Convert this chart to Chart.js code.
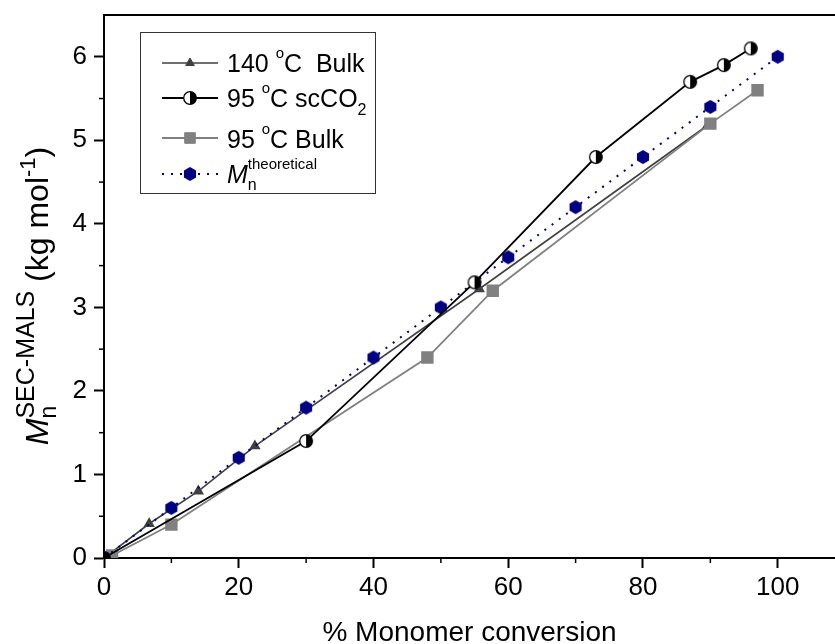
<!DOCTYPE html>
<html>
<head>
<meta charset="utf-8">
<script src="https://cdn.jsdelivr.net/npm/chart.js@4.4.0/dist/chart.umd.min.js"></script>
<style>
html, body { margin: 0; padding: 0; background: #fff; }
</style>
</head>
<body>
<canvas id="myChart" width="835" height="644"></canvas>
<script>
// 데이터
var bulk140X = [0, 6.7, 14, 22.4, 55.7, 89.6];
var bulk140Y = [0, 0.41, 0.8, 1.34, 3.22, 5.18];
var scco2X = [0, 30, 55, 73, 87, 92, 96];
var scco2Y = [0, 1.4, 3.3, 4.8, 5.7, 5.9, 6.1];
var bulk95X = [1.2, 10, 48, 57.7, 90, 97];
var bulk95Y = [0.03, 0.4, 2.4, 3.2, 5.2, 5.6];
var theoX = [0, 10, 20, 30, 40, 50, 60, 70, 80, 90, 100];
var theoY = [0, 0.6, 1.2, 1.8, 2.4, 3.0, 3.6, 4.2, 4.8, 5.4, 6.0];
var xTicks = [0, 20, 40, 60, 80, 100];
var xMinor = [10, 30, 50, 70, 90];
var yTicks = [0, 1, 2, 3, 4, 5, 6];
var yMinor = [0.5, 1.5, 2.5, 3.5, 4.5, 5.5];

var FONT = '"Liberation Sans", Arial, sans-serif';

function pts(xs, ys) {
    return xs.map(function (x, i) { return { x: x, y: ys[i] }; });
}

// 반쪽 채운 원 마커
function halfCircle(r) {
    var c = document.createElement('canvas');
    var s = Math.ceil(r * 2 + 3);
    c.width = s; c.height = s;
    var g = c.getContext('2d');
    var m = s / 2;
    g.fillStyle = '#fff';
    g.beginPath(); g.arc(m, m, r, 0, Math.PI * 2); g.fill();
    g.fillStyle = '#000';
    g.beginPath(); g.arc(m, m, r, -Math.PI / 2, Math.PI / 2); g.closePath(); g.fill();
    g.strokeStyle = '#000'; g.lineWidth = 1.3;
    g.beginPath(); g.arc(m, m, r, 0, Math.PI * 2); g.stroke();
    return c;
}

// 육각형 마커
function hexagon(r, color) {
    var c = document.createElement('canvas');
    var s = Math.ceil(r * 2 + 2);
    c.width = s; c.height = s;
    var g = c.getContext('2d');
    var m = s / 2;
    g.fillStyle = color;
    g.beginPath();
    for (var k = 0; k < 6; k++) {
        var a = -Math.PI / 2 + k * Math.PI / 3;
        var px = m + r * Math.cos(a), py = m + r * Math.sin(a);
        if (k === 0) g.moveTo(px, py); else g.lineTo(px, py);
    }
    g.closePath(); g.fill();
    return c;
}

var halfImg = halfCircle(6.3);
var hexImg = hexagon(7, '#000080');

// 위첨자/아래첨자 텍스트
function richWidth(ctx, parts) {
    var w = 0;
    parts.forEach(function (p) {
        ctx.font = (p.italic ? 'italic ' : '') + p.size + 'px ' + FONT;
        var pw = ctx.measureText(p.t).width;
        if (p.stack) {
            w += Math.max(pw, p.stackW(ctx));
        } else {
            w += pw;
        }
    });
    return w;
}

function drawRich(ctx, parts, x, y) {
    parts.forEach(function (p) {
        ctx.font = (p.italic ? 'italic ' : '') + p.size + 'px ' + FONT;
        ctx.fillText(p.t, x, y + (p.dy || 0));
        var pw = ctx.measureText(p.t).width;
        if (p.stack) {
            var s = p.stack;
            ctx.font = s.size + 'px ' + FONT;
            ctx.fillText(s.t, x, y + s.dy);
            pw = Math.max(pw, ctx.measureText(s.t).width);
        }
        x += pw;
    });
}

function stackW(s) {
    return function (ctx) {
        ctx.font = s.size + 'px ' + FONT;
        return ctx.measureText(s.t).width;
    };
}

var yLabelParts = [
    { t: 'M', size: 32, italic: true },
    { t: 'n', size: 23, dy: 8, stack: { t: 'SEC-MALS', size: 25, dy: -14 } },
    { t: ' (kg mol', size: 32 },
    { t: '-1', size: 22, dy: -13 },
    { t: ')', size: 32 }
];
yLabelParts[1].stackW = stackW(yLabelParts[1].stack);

var legendRows = [
    { parts: [{ t: '140 ', size: 25 }, { t: 'o', size: 15, dy: -14 }, { t: 'C  Bulk', size: 25 }], ds: 0 },
    { parts: [{ t: '95 ', size: 25 }, { t: 'o', size: 15, dy: -14 }, { t: 'C scCO', size: 25 }, { t: '2', size: 16, dy: 8 }], ds: 1 },
    { parts: [{ t: '95 ', size: 25 }, { t: 'o', size: 15, dy: -14 }, { t: 'C Bulk', size: 25 }], ds: 2 },
    { parts: [{ t: 'M', size: 25, italic: true }, { t: 'n', size: 16, dy: 7, stack: { t: 'theoretical', size: 15, dy: -14 } }], ds: 3 }
];

var decor = {
    id: 'decor',
    afterDraw: function (chart) {
        var ctx = chart.ctx;
        var a = chart.chartArea;
        var xs = chart.scales.x, ys = chart.scales.y;
        ctx.save();
        ctx.strokeStyle = '#000';
        ctx.lineWidth = 2;
        // 위쪽 테두리
        ctx.beginPath(); ctx.moveTo(a.left - 1, a.top); ctx.lineTo(a.right, a.top); ctx.stroke();
        // 보조 눈금
        ctx.lineWidth = 1.5;
        xMinor.forEach(function (v) {
            var px = xs.getPixelForValue(v);
            ctx.beginPath(); ctx.moveTo(px, a.bottom); ctx.lineTo(px, a.bottom + 5); ctx.stroke();
        });
        yMinor.forEach(function (v) {
            var py = ys.getPixelForValue(v);
            ctx.beginPath(); ctx.moveTo(a.left, py); ctx.lineTo(a.left - 5, py); ctx.stroke();
        });

        // y축 제목
        ctx.fillStyle = '#000';
        ctx.textBaseline = 'alphabetic';
        ctx.textAlign = 'left';
        var w = richWidth(ctx, yLabelParts);
        ctx.save();
        ctx.translate(48, 296);
        ctx.rotate(-Math.PI / 2);
        drawRich(ctx, yLabelParts, -w / 2, 0);
        ctx.restore();

        // 범례
        var bx = 140, by = 32, bw = 235, bh = 161;
        ctx.lineWidth = 1;
        ctx.strokeStyle = '#333';
        ctx.strokeRect(bx + 0.5, by + 0.5, bw, bh);
        var textY = [72, 107, 148, 183];
        var markY = [63, 98, 138, 174];
        legendRows.forEach(function (row, i) {
            var ds = chart.data.datasets[row.ds];
            var my = markY[i];
            ctx.save();
            ctx.strokeStyle = ds.borderColor;
            ctx.lineWidth = ds.borderWidth;
            ctx.setLineDash(ds.borderDash || []);
            ctx.beginPath(); ctx.moveTo(162, my); ctx.lineTo(218, my); ctx.stroke();
            ctx.setLineDash([]);
            if (typeof ds.pointStyle === 'object') {
                ctx.drawImage(ds.pointStyle, 190 - ds.pointStyle.width / 2, my - ds.pointStyle.height / 2);
            } else {
                ctx.fillStyle = ds.pointBackgroundColor;
                ctx.strokeStyle = ds.pointBorderColor;
                ctx.lineWidth = 1;
                Chart.helpers.drawPoint(ctx, { pointStyle: ds.pointStyle, radius: ds.pointRadius, borderWidth: 1 }, 190, my);
            }
            ctx.restore();
            ctx.fillStyle = '#000';
            drawRich(ctx, row.parts, 227, textY[i]);
        });
        ctx.restore();
    }
};

var ctx = document.getElementById('myChart');
var myChart = new Chart(ctx, {
    type: 'line',
    data: {
        datasets: [{
            label: '140 °C Bulk',
            data: pts(bulk140X, bulk140Y),
            borderColor: '#404040',
            borderWidth: 1.6,
            pointStyle: 'triangle',
            pointRadius: 5,
            pointBackgroundColor: '#404040',
            pointBorderColor: '#404040',
            order: 4
        }, {
            label: '95 °C scCO2',
            data: pts(scco2X, scco2Y),
            borderColor: '#000',
            borderWidth: 1.8,
            pointStyle: halfImg,
            order: 1
        }, {
            label: '95 °C Bulk',
            data: pts(bulk95X, bulk95Y),
            borderColor: '#808080',
            borderWidth: 1.8,
            pointStyle: 'rect',
            pointRadius: 7.5,
            pointBackgroundColor: '#808080',
            pointBorderColor: '#808080',
            order: 3
        }, {
            label: 'Mn theoretical',
            data: pts(theoX, theoY),
            borderColor: '#000080',
            borderWidth: 2,
            borderDash: [2, 7],
            pointStyle: hexImg,
            order: 2
        }]
    },
    options: {
        responsive: false,
        animation: false,
        events: [],
        layout: { autoPadding: false, padding: { top: 15, right: 0, left: 0, bottom: 0 } },
        plugins: {
            legend: { display: false },
            tooltip: { enabled: false }
        },
        elements: { line: { tension: 0, fill: false } },
        scales: {
            x: {
                type: 'linear',
                min: 0,
                max: 108.5,
                afterBuildTicks: function (s) { s.ticks = xTicks.map(function (v) { return { value: v }; }); },
                afterFit: function (s) { s.height = 86; s.paddingLeft = 0; s.paddingRight = 0; },
                grid: { drawOnChartArea: false, drawTicks: true, tickLength: 10, tickWidth: 2, tickColor: '#000' },
                border: { display: true, color: '#000', width: 2 },
                ticks: { font: { family: FONT, size: 26 }, color: '#000', padding: 4, maxRotation: 0 },
                title: { display: true, text: '% Monomer conversion', color: '#000', font: { family: FONT, size: 28, lineHeight: 0.8 }, padding: 0 }
            },
            y: {
                type: 'linear',
                min: 0,
                max: 6.5,
                afterBuildTicks: function (s) { s.ticks = yTicks.map(function (v) { return { value: v }; }); },
                afterFit: function (s) { s.width = 104; s.paddingTop = 0; s.paddingBottom = 0; },
                grid: { drawOnChartArea: false, drawTicks: true, tickLength: 10, tickWidth: 2, tickColor: '#000' },
                border: { display: true, color: '#000', width: 2 },
                ticks: { font: { family: FONT, size: 26 }, color: '#000', padding: 7 }
            }
        }
    },
    plugins: [decor]
});
</script>
</body>
</html>
